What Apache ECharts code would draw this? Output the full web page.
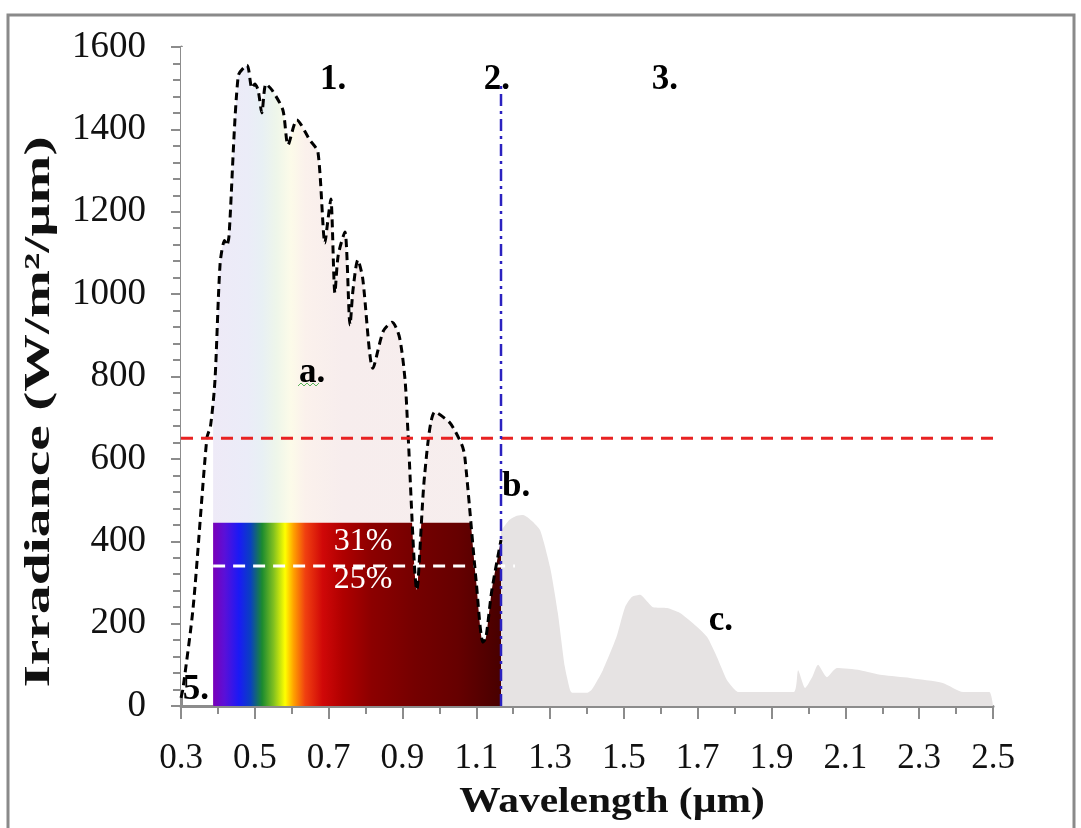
<!DOCTYPE html>
<html>
<head>
<meta charset="utf-8">
<script src="https://cdn.jsdelivr.net/npm/echarts@6/dist/echarts.min.js"></script>
<style>
  html, body { margin: 0; padding: 0; background: #fff; }
  #eChart { width: 1081px; height: 828px; }
</style>
</head>
<body>
<div id="eChart"></div>
<script>
// wavelength (um) / irradiance (W/m2/um)
var topCurve = [
    [0.300, 20], [0.305, 40], [0.333, 240], [0.370, 650], [0.380, 680], [0.392, 790],
    [0.406, 1075], [0.418, 1130], [0.424, 1118], [0.430, 1140], [0.455, 1530], [0.479, 1556],
    [0.492, 1500], [0.500, 1510], [0.509, 1495], [0.519, 1440], [0.530, 1510], [0.547, 1495],
    [0.576, 1447], [0.590, 1362], [0.614, 1423], [0.649, 1374], [0.671, 1345], [0.690, 1124],
    [0.698, 1180], [0.706, 1231], [0.717, 1003], [0.726, 1095], [0.744, 1151], [0.758, 925],
    [0.766, 1010], [0.779, 1083], [0.792, 1040], [0.820, 820], [0.848, 910], [0.872, 932],
    [0.892, 895], [0.907, 792], [0.915, 663], [0.939, 282], [0.960, 560], [0.988, 714],
    [1.029, 687], [1.061, 634], [1.069, 605], [1.100, 300], [1.118, 155], [1.126, 165],
    [1.142, 280], [1.167, 403]
];
var groundCurve = [
    [1.167, 425], [1.190, 452], [1.210, 462], [1.227, 464], [1.250, 450], [1.273, 427],
    [1.300, 337], [1.321, 226], [1.340, 95], [1.354, 39], [1.360, 32], [1.400, 32],
    [1.413, 40], [1.443, 87], [1.480, 168], [1.503, 240], [1.522, 265], [1.544, 270],
    [1.565, 252], [1.579, 240], [1.617, 238], [1.652, 226], [1.687, 201], [1.725, 168],
    [1.752, 119], [1.779, 63], [1.796, 44], [1.810, 34], [1.960, 34], [1.972, 87],
    [1.991, 44], [2.010, 70], [2.026, 100], [2.050, 70], [2.077, 92], [2.140, 87],
    [2.200, 75], [2.275, 68], [2.364, 56], [2.419, 34], [2.490, 34], [2.500, 0]
];
var xTickLabels = [0.3, 0.5, 0.7, 0.9, 1.1, 1.3, 1.5, 1.7, 1.9, 2.1, 2.3, 2.5];
var bandStart = 0.387;   // start of visible band
var cutoff = 1.167;      // line 2.
var cutoffTop = 1515;
var bandLevel = 445;     // top of the coloured block (31%)
var level25 = 340;       // white dashed line (25%)
var level25End = 1.205;
var redLevel = 650;
var blackNotes = [['1.', 0.712, 1520], ['2.', 1.156, 1520], ['3.', 1.611, 1520],
                  ['a.', 0.655, 808], ['b.', 1.208, 532], ['c.', 1.763, 206], ['5.', 0.34, 39]];
var whiteNotes = [['31%', 0.793, 400], ['25%', 0.793, 306]];

var minorX = [];
for (var i = 0; i < xTickLabels.length - 1; i++) {
    minorX.push(+((xTickLabels[i] + xTickLabels[i + 1]) / 2).toFixed(2));
}
var serif = '"Liberation Serif", "DejaVu Serif", serif';
var grad = function (stops) {
    return new echarts.graphic.LinearGradient(0, 0, 1, 0, stops.map(function (s) {
        return { offset: s[0], color: s[1] };
    }));
};
var noteSeries = function (notes, color, weight, size) {
    return {
        type: 'scatter', z: 10, symbolSize: 2, silent: true,
        itemStyle: { color: 'rgba(0,0,0,0)' },
        label: {
            show: true, position: 'inside', color: color, opacity: 1,
            textBorderWidth: 0, fontFamily: serif, fontWeight: weight, fontSize: size,
            formatter: function (p) { return p.name; }
        },
        data: notes.map(function (n) { return { name: n[0], value: [n[1], n[2]] }; })
    };
};

var option = {
    animation: false,
    grid: { left: 181, right: 88, top: 47, bottom: 122 },
    xAxis: [
        {
            type: 'value', min: 0.3, max: 2.5, interval: 0.1,
            axisLine: { lineStyle: { color: '#8c8c8c', width: 3 } },
            axisTick: { customValues: xTickLabels, length: 13, lineStyle: { color: '#8c8c8c', width: 2 } },
            axisLabel: {
                customValues: xTickLabels, margin: 35, color: '#111',
                fontFamily: serif, fontSize: 35,
                formatter: function (v) { return v.toFixed(1); }
            },
            splitLine: { show: false }
        },
        {
            type: 'value', min: 0.3, max: 2.5, interval: 0.1, position: 'bottom',
            axisLine: { show: false },
            axisTick: { customValues: minorX, length: 8, lineStyle: { color: '#8c8c8c', width: 2 } },
            axisLabel: { show: false },
            splitLine: { show: false }
        }
    ],
    yAxis: {
        type: 'value', min: 0, max: 1600, interval: 200,
        axisLine: { show: true, lineStyle: { color: '#8c8c8c', width: 3 } },
        axisTick: { show: true, length: 10, lineStyle: { color: '#8c8c8c', width: 2 } },
        minorTick: { show: true, splitNumber: 5, length: 8, lineStyle: { color: '#8c8c8c', width: 2 } },
        axisLabel: { margin: 35, color: '#111', fontFamily: serif, fontSize: 37,
                     formatter: function (v) { return String(v); } },
        splitLine: { show: false }
    },
    graphic: [
        { type: 'rect', shape: { x: 8, y: 15, width: 1066, height: 840 },
          style: { fill: null, stroke: '#8a8a8a', lineWidth: 3 }, z: 0 },
        { type: 'text', x: 40, y: 412, rotation: Math.PI / 2, scaleX: 1.6,
          style: { text: 'Irradiance (W/m\u00b2/\u00b5m)', fill: '#111', font: 'bold 36px ' + serif,
                   align: 'center', verticalAlign: 'middle' } },
        { type: 'text', x: 612, y: 803, scaleX: 1.15,
          style: { text: 'Wavelength (\u00b5m)', fill: '#111', font: 'bold 36px ' + serif,
                   align: 'center', verticalAlign: 'middle' } },
        { type: 'polyline', z: 20,
          shape: { points: [[298, 386], [301, 383], [304, 386], [307, 383], [310, 386], [313, 383], [316, 386], [319, 383]] },
          style: { stroke: '#5bb55b', lineWidth: 1, fill: null } }
    ],
    series: [
        {   // c. ground irradiance
            type: 'line', z: 1, symbol: 'none', silent: true, smooth: 0.2,
            lineStyle: { width: 0 },
            areaStyle: { color: '#e6e3e3', opacity: 1 },
            data: groundCurve
        },
        {   // pale band under top curve
            type: 'line', z: 2, symbol: 'none', silent: true,
            lineStyle: { width: 0 },
            areaStyle: { opacity: 1, color: grad([
                [0, '#eeeaf7'], [0.12, '#ebecf8'], [0.17, '#e8f0f4'], [0.22, '#eef6ea'],
                [0.27, '#fcfbe9'], [0.32, '#fbf1ec'], [0.45, '#f7eded'], [1, '#f6eeee']]) },
            data: [[bandStart, 1600], [cutoff, 1600]]
        },
        {   // coloured block
            type: 'line', z: 3, symbol: 'none', silent: true,
            lineStyle: { width: 0 },
            areaStyle: { opacity: 1, color: grad([
                [0, '#7a00b8'], [0.04, '#5a10d8'], [0.09, '#1a1af5'], [0.13, '#0a40c0'],
                [0.17, '#1a8a30'], [0.21, '#80c020'], [0.25, '#ffff00'], [0.28, '#ffa000'],
                [0.32, '#f04010'], [0.38, '#d00808'], [0.45, '#b00000'], [0.55, '#8c0000'],
                [0.7, '#750000'], [0.85, '#660000'], [1, '#480000']]) },
            data: [[bandStart, bandLevel], [cutoff, bandLevel]]
        },
        {   // white above the top curve
            type: 'line', z: 4, symbol: 'none', silent: true, smooth: 0.25,
            lineStyle: { width: 0 },
            areaStyle: { origin: 'end', color: '#ffffff', opacity: 1 },
            data: topCurve
        },
        {   // 25% line
            type: 'line', z: 5, symbol: 'none', silent: true,
            lineStyle: { color: '#ffffff', width: 3, type: [12, 8] },
            data: [[bandStart, level25], [level25End, level25]]
        },
        {   // a. extraterrestrial
            type: 'line', z: 6, symbol: 'none', silent: true, smooth: 0.25,
            lineStyle: { color: '#000000', width: 3, type: [8, 5] },
            data: topCurve
        },
        {
            type: 'line', z: 7, symbol: 'none', silent: true,
            lineStyle: { color: '#e82222', width: 3, type: [12, 8] },
            data: [[0.3, redLevel], [2.5, redLevel]]
        },
        {
            type: 'line', z: 7, symbol: 'none', silent: true,
            lineStyle: { color: '#2b22c0', width: 2.5, type: [12, 5, 3, 5] },
            data: [[cutoff, 0], [cutoff, cutoffTop]]
        },
        noteSeries(blackNotes, '#000000', 'bold', 35),
        noteSeries(whiteNotes, '#ffffff', 'normal', 32)
    ]
};

var chart = echarts.init(document.getElementById('eChart'));
chart.setOption(option);
</script>
</body>
</html>
